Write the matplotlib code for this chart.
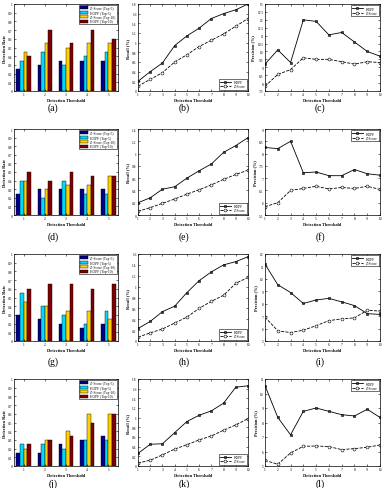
import numpy as np
import matplotlib
matplotlib.use('Agg')
import matplotlib.pyplot as plt

plt.rcParams['font.family'] = ['Liberation Serif', 'DejaVu Serif']

# данные
groups = [1, 2, 3, 4, 5]
thresholds = [1, 2, 3, 4, 5, 6, 7, 8, 9, 10]
bar_labels = ['Z-Score (Top-5)', 'HOPF (Top-5)', 'Z-Score (Top-10)', 'HOPF (Top-10)']
bar_colors = [(0, 0, 0.5625), (0, 0.85, 1), (1, 0.8125, 0), (0.5, 0, 0)]

rate_a = [[0.25, 0.30, 0.35, 0.35, 0.35],
          [0.35, 0.45, 0.30, 0.40, 0.45],
          [0.45, 0.55, 0.50, 0.55, 0.55],
          [0.40, 0.70, 0.55, 0.70, 0.60]]
rate_d = [[0.25, 0.30, 0.30, 0.30, 0.30],
          [0.40, 0.20, 0.40, 0.25, 0.25],
          [0.40, 0.30, 0.35, 0.35, 0.45],
          [0.50, 0.40, 0.50, 0.45, 0.45]]
rate_g = [[0.30, 0.25, 0.20, 0.15, 0.20],
          [0.55, 0.40, 0.30, 0.20, 0.35],
          [0.45, 0.40, 0.35, 0.35, 0.25],
          [0.60, 0.65, 0.65, 0.60, 0.65]]
rate_j = [[0.15, 0.15, 0.25, 0.30, 0.35],
          [0.25, 0.25, 0.20, 0.30, 0.30],
          [0.20, 0.30, 0.40, 0.60, 0.60],
          [0.25, 0.30, 0.35, 0.50, 0.60]]

recall_b_hopf = [0.20, 0.40, 0.58, 0.94, 1.14, 1.30, 1.50, 1.60, 1.68, 1.80]
recall_b_z = [0.10, 0.24, 0.38, 0.60, 0.75, 0.92, 1.05, 1.18, 1.34, 1.50]
recall_e_hopf = [0.20, 0.28, 0.42, 0.46, 0.60, 0.72, 0.83, 1.02, 1.13, 1.26]
recall_e_z = [0.06, 0.12, 0.19, 0.26, 0.34, 0.41, 0.49, 0.58, 0.66, 0.73]
recall_h_hopf = [0.23, 0.36, 0.54, 0.64, 0.89, 1.11, 1.27, 1.40, 1.46, 1.55]
recall_h_z = [0.07, 0.15, 0.22, 0.33, 0.44, 0.60, 0.73, 0.84, 1.06, 1.17]
recall_k_hopf = [0.26, 0.45, 0.46, 0.69, 0.92, 1.05, 1.14, 1.30, 1.63, 1.66]
recall_k_z = [0.06, 0.12, 0.23, 0.35, 0.44, 0.54, 0.62, 0.74, 0.85, 0.98]

prec_c_hopf = [9.2, 10.1, 9.3, 12.0, 11.9, 11.05, 11.2, 10.6, 10.0, 9.7]
prec_c_z = [7.8, 8.55, 8.85, 9.6, 9.5, 9.5, 9.35, 9.2, 9.35, 9.3]
prec_f_hopf = [8.25, 8.2, 8.5, 7.22, 7.25, 7.1, 7.1, 7.35, 7.18, 7.12]
prec_f_z = [5.84, 6.0, 6.5, 6.58, 6.67, 6.56, 6.62, 6.58, 6.67, 6.54]
prec_i_hopf = [11.18, 9.53, 8.9, 8.02, 8.3, 8.43, 8.15, 7.85, 7.2, 7.14]
prec_i_z = [6.92, 5.82, 5.68, 5.87, 6.23, 6.64, 6.78, 6.86, 7.47, 7.41]
prec_l_hopf = [10.54, 8.35, 7.15, 8.77, 9.0, 8.77, 8.54, 8.45, 8.91, 8.35]
prec_l_z = [5.39, 5.12, 5.9, 6.36, 6.38, 6.34, 6.13, 6.2, 6.29, 6.45]

W, H = 385, 489
fig = plt.figure(figsize=(W / 100, H / 100), dpi=100)

TICK = 2.6
LAB = 3.2


def px_axes(x0, y0, x1, y1):
    # прямоугольник в пикселях (начало сверху слева)
    return fig.add_axes([x0 / W, 1 - y1 / H, (x1 - x0) / W, (y1 - y0) / H])


def style(ax):
    ax.tick_params(direction='in', length=1.5, width=0.4, labelsize=TICK, pad=1.0,
                   top=True, right=True)
    for s in ax.spines.values():
        s.set_linewidth(0.5)


def bar_plot(ax, rates):
    x = np.array(groups)
    w = 0.17
    for i, vals in enumerate(rates):
        ax.bar(x + (i - 1.5) * w, vals, w, color=bar_colors[i], edgecolor='black',
               linewidth=0.3, label=bar_labels[i])
    ax.set_xlim(0.55, 5.45)
    ax.set_ylim(0, 1)
    ax.set_xticks(groups)
    ax.set_yticks(np.arange(0, 1.01, 0.1))
    ax.set_yticklabels(['0'] + ['%g' % v for v in np.arange(0.1, 0.95, 0.1)] + ['1'])
    ax.set_xlabel('Detection Threshold', fontsize=LAB, fontweight='bold', labelpad=1)
    ax.set_ylabel('Detection Rate', fontsize=LAB, fontweight='bold', labelpad=1)
    style(ax)
    leg = ax.legend(loc='upper right', fontsize=2.6, handlelength=2.2, handleheight=0.9,
                    borderpad=0.3, labelspacing=0.1, fancybox=False, edgecolor='black',
                    framealpha=1, borderaxespad=0.3)
    leg.get_frame().set_linewidth(0.4)


def line_plot(ax, hopf, z, ylim, yticks, ylabel, loc):
    ax.plot(thresholds, hopf, '-s', color='black', lw=0.6, ms=2.0,
            mfc='#404040', mec='black', mew=0.4, label='HOPF')
    ax.plot(thresholds, z, '--o', color='black', lw=0.6, ms=2.1,
            mfc='white', mec='black', mew=0.4, label='Z-Score')
    ax.set_xlim(1, 10)
    ax.set_ylim(*ylim)
    ax.set_xticks(thresholds)
    ax.set_yticks(yticks)
    ax.set_yticklabels(['%g' % v for v in yticks])
    ax.set_xlabel('Detection Threshold', fontsize=LAB, fontweight='bold', labelpad=1)
    ax.set_ylabel(ylabel, fontsize=LAB, fontweight='bold', labelpad=1.5)
    style(ax)
    leg = ax.legend(loc=loc, fontsize=2.6, handlelength=3, borderpad=0.3,
                    labelspacing=0.15, fancybox=False, edgecolor='black', framealpha=1,
                    borderaxespad=0.4)
    leg.get_frame().set_linewidth(0.4)


cols = [(14, 118), (138, 248), (265, 380)]
rows = [(5, 92), (130, 216), (255, 342), (380, 467)]
captions = [['(a)', '(b)', '(c)'], ['(d)', '(e)', '(f)'],
            ['(g)', '(h)', '(i)'], ['(j)', '(k)', '(l)']]
cap_y = [108, 237, 362, 484]
cap_x = [53, 184, 320]

bars = [rate_a, rate_d, rate_g, rate_j]
recalls = [(recall_b_hopf, recall_b_z, (0, 1.8), np.arange(0, 1.81, 0.2)),
           (recall_e_hopf, recall_e_z, (0, 1.4), np.arange(0, 1.41, 0.2)),
           (recall_h_hopf, recall_h_z, (0, 1.6), np.arange(0, 1.61, 0.2)),
           (recall_k_hopf, recall_k_z, (0, 1.8), np.arange(0, 1.81, 0.2))]
precs = [(prec_c_hopf, prec_c_z, (7.5, 13), np.arange(7.5, 13.01, 0.5)),
         (prec_f_hopf, prec_f_z, (5.5, 9), np.arange(5.5, 9.01, 0.5)),
         (prec_i_hopf, prec_i_z, (5, 12), np.arange(5, 12.01, 1)),
         (prec_l_hopf, prec_l_z, (5, 11), np.arange(5, 11.01, 1))]

for r, (y0, y1) in enumerate(rows):
    ax = px_axes(cols[0][0], y0, cols[0][1], y1)
    bar_plot(ax, bars[r])
    h, z, yl, yt = recalls[r]
    ax = px_axes(cols[1][0], y0, cols[1][1], y1)
    line_plot(ax, h, z, yl, yt, 'Recall (%)', 'lower right')
    h, z, yl, yt = precs[r]
    ax = px_axes(cols[2][0], y0, cols[2][1], y1)
    line_plot(ax, h, z, yl, yt, 'Precision (%)', 'upper right')
    for c in range(3):
        fig.text(cap_x[c] / W, 1 - cap_y[r] / H, captions[r][c], fontsize=7,
                 ha='center', va='center')

fig.savefig('out.png', dpi=100)
